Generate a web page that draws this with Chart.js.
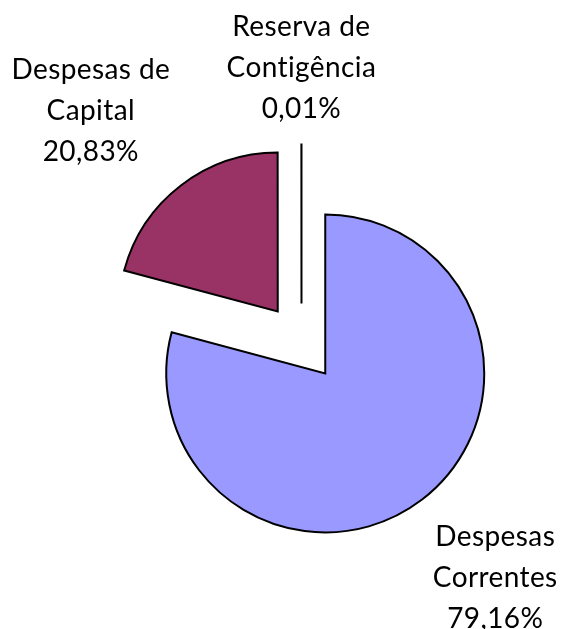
<!DOCTYPE html>
<html>
<head>
<meta charset="utf-8">
<script src="https://cdn.jsdelivr.net/npm/chart.js@4/dist/chart.umd.min.js"></script>
<style>
  html, body { margin: 0; padding: 0; background: #fff; }
  #wrap { width: 563px; height: 629px; }
</style>
</head>
<body>
<div id="wrap"><canvas id="pie"></canvas></div>
<script>
// ---- data ----
const categories = ['Despesas Correntes', 'Despesas de Capital', 'Reserva de Contigência'];
const shares = [79.16, 20.83, 0.01];
const labelLines = [
  ['Despesas', 'Correntes', '79,16%'],
  ['Despesas de', 'Capital', '20,83%'],
  ['Reserva de', 'Contigência', '0,01%']
];

// ---- style ----
const sliceColors = ['#9999FF', '#993366', '#993366'];
const explode = 39;                 // distance each slice is pulled out
// label placement: [angle shift (deg) from slice middle, distance beyond the rim]
const labelPlace = [[-1.0, 114], [-6.7, 109], [0, 68]];
const labelFont = '28px Lato, "Open Sans", sans-serif';
const lineGap = 41;

// pull every slice out along its middle angle (Excel-style exploded pie)
const explodePlugin = {
  id: 'explode',
  afterDatasetUpdate(chart, args) {
    args.meta.data.forEach(arc => {
      const mid = (arc.startAngle + arc.endAngle) / 2;
      arc.x += Math.cos(mid) * explode;
      arc.y += Math.sin(mid) * explode;
    });
  }
};

// data labels drawn outside each slice
const labelPlugin = {
  id: 'sliceLabels',
  afterDraw(chart) {
    const {ctx} = chart;
    const arcs = chart.getDatasetMeta(0).data;
    ctx.save();
    ctx.font = labelFont;
    if ('letterSpacing' in ctx) ctx.letterSpacing = '0.4px'; // also stops the "ti" ligature
    ctx.fillStyle = '#000';
    ctx.textAlign = 'center';
    ctx.textBaseline = 'alphabetic';
    arcs.forEach((arc, i) => {
      const [dA, dist] = labelPlace[i];
      const ang = (arc.startAngle + arc.endAngle) / 2 + dA * Math.PI / 180;
      const r = arc.outerRadius + dist;
      const x = arc.x + Math.cos(ang) * r;
      const y = arc.y + Math.sin(ang) * r;
      labelLines[i].forEach((t, k) => {
        ctx.fillText(t, x, y + (k - 1) * lineGap);
      });
    });
    ctx.restore();
  }
};

new Chart(document.getElementById('pie'), {
  type: 'pie',
  data: {
    labels: categories,
    datasets: [{
      data: shares,
      backgroundColor: sliceColors,
      borderColor: '#000',
      borderWidth: 2,
      borderJoinStyle: 'miter'
    }]
  },
  options: {
    responsive: true,
    maintainAspectRatio: false,
    animation: false,
    events: [],
    radius: 159,
    layout: { padding: { left: 40, right: 0, top: 56, bottom: 0 } },
    plugins: {
      legend: { display: false },
      tooltip: { enabled: false }
    }
  },
  plugins: [explodePlugin, labelPlugin]
});
</script>
</body>
</html>
